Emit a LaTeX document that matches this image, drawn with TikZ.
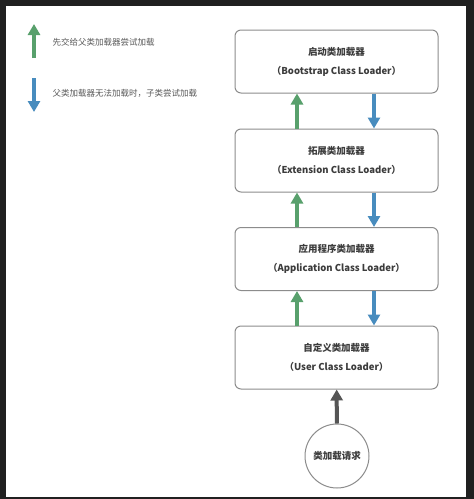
\documentclass[tikz,border=0pt]{standalone}
\usepackage{fontspec}
\setmainfont{Noto Sans CJK SC}
\usetikzlibrary{arrows.meta}
\definecolor{upgreen}{RGB}{88,160,108}
\definecolor{downblue}{RGB}{72,140,190}
\definecolor{reqgray}{RGB}{85,85,85}
\definecolor{framegray}{RGB}{140,140,140}
\definecolor{txtgray}{RGB}{60,60,60}
\definecolor{bgdark}{RGB}{32,32,32}

\begin{document}
\begin{tikzpicture}[x=1pt, y=-1pt, line join=round]
	\tikzstyle{loader}=[draw=framegray, line width=1pt, rounded corners=6pt, fill=white, minimum width=203pt, minimum height=63pt, align=center, font=\fontsize{9.5}{19}\selectfont\bfseries, text=txtgray]
	\tikzstyle{annot}=[anchor=west, font=\fontsize{8.5}{10}\selectfont, text=txtgray!85]
	\tikzstyle{arr}=[line width=4pt, -{Triangle[width=12pt,length=11pt]}]
	
	% Background
	\fill[bgdark] (0,0) rectangle (474,499);
	\fill[white] (6,6) rectangle (466,497);
	
	% Draw legend
	\coordinate (gfrom) at (34,58);
	\coordinate (gto) at (34,24);
	\coordinate (bfrom) at (34,78);
	\coordinate (bto) at (34,112);
	\node[annot] (gtext) at (49,42) {先交给父类加载器尝试加载};
	\node[annot] (btext) at (49,93) {父类加载器无法加载时，子类尝试加载};
	\path (gfrom) edge[arr, upgreen] (gto);
	\path (bfrom) edge[arr, downblue] (bto);
	
	% Draw loaders
	\node[loader] (boot) at (336.5,61.5) {启动类加载器\\（Bootstrap Class Loader）};
	\node[loader] (ext) at (336.5,160.5) {拓展类加载器\\（Extension Class Loader）};
	\node[loader] (app) at (336.5,259) {应用程序类加载器\\（Application Class Loader）};
	\node[loader] (user) at (336.5,357.5) {自定义类加载器\\（User Class Loader）};
	\node[draw=framegray, line width=1pt, circle, minimum size=64pt, inner sep=0pt, font=\fontsize{9.5}{11}\selectfont\bfseries, text=txtgray] (req) at (337,456) {类加载请求};
	
	% Draw arrows
	\path ([xshift=-39.5pt]ext.north) edge[arr, upgreen] ([xshift=-39.5pt]boot.south);
	\path ([xshift=-39.5pt]app.north) edge[arr, upgreen] ([xshift=-39.5pt]ext.south);
	\path ([xshift=-39.5pt]user.north) edge[arr, upgreen] ([xshift=-39.5pt]app.south);
	\path ([xshift=37.5pt]boot.south) edge[arr, downblue] ([xshift=37.5pt]ext.north);
	\path ([xshift=37.5pt]ext.south) edge[arr, downblue] ([xshift=37.5pt]app.north);
	\path ([xshift=37.5pt]app.south) edge[arr, downblue] ([xshift=37.5pt]user.north);
	\path (req) edge[arr, reqgray] (user);
	
\end{tikzpicture}
\end{document}
